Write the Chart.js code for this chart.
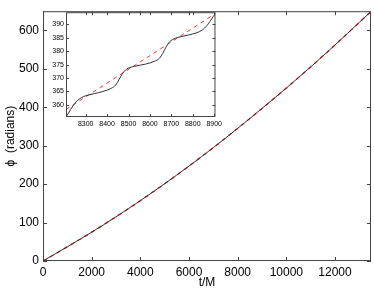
<!DOCTYPE html>
<html>
<head>
<meta charset="utf-8">
<script src="https://cdn.jsdelivr.net/npm/chart.js@4/dist/chart.umd.min.js"></script>
<style>
  body { margin: 0; background: #fff; }
  #wrap { position: relative; width: 374px; height: 291px; }
  canvas { position: absolute; }
  #main { left: 0; top: 0; }
  #inset { left: 40px; top: 6px; }
</style>
</head>
<body>
<div id="wrap">
  <canvas id="main" width="374" height="291"></canvas>
  <canvas id="inset" width="185" height="126"></canvas>
</div>
<script>
// main panel: phase vs time
const mainT   = [0, 1000, 2000, 3000, 4000, 5000, 6000, 7000, 8000, 9000, 10000, 11000, 12000, 13000, 13480];
const mainPhi = [0, 37, 75, 115, 157, 201, 247, 295, 345, 397, 450, 505, 562, 621, 649];
const fitPhi  = [0, 37, 75, 115, 157, 201, 247, 295, 345, 397, 450, 505, 562, 621, 649];

// inset: zoom on 8200 - 8900
const insetT   = [8208, 8220, 8240, 8260, 8280, 8300, 8340, 8380, 8420, 8440, 8455, 8470, 8485, 8500,
                  8530, 8580, 8620, 8645, 8660, 8675, 8690, 8705, 8730, 8780, 8820, 8845, 8865, 8880, 8895, 8906];
const insetPhi = [355.6, 357.0, 359.6, 361.5, 362.7, 363.4, 364.2, 365.0, 366.2, 367.4, 369.3, 371.4, 372.9, 373.7,
                  374.4, 375.2, 376.2, 377.4, 379.2, 381.5, 383.3, 384.3, 385.1, 386.0, 386.9, 387.9, 389.4, 391.0, 392.8, 394.0];
const insetFitT   = [8208, 8906];
const insetFitPhi = [358.3, 394.0];

// tick values
const mainXTicks  = [0, 2000, 4000, 6000, 8000, 10000, 12000];
const mainYTicks  = [0, 100, 200, 300, 400, 500, 600];
const insetXTicks = [8300, 8400, 8500, 8600, 8700, 8800, 8900];
const insetYTicks = [360, 365, 370, 375, 380, 385, 390];

Chart.defaults.font.family = '"Liberation Sans", Arial, sans-serif';
Chart.defaults.color = '#000';

const pts = (xs, ys) => xs.map((x, i) => ({ x: x, y: ys[i] }));
const useTicks = values => s => { s.ticks = values.map(v => ({ value: v })); };
const plain = v => String(v);

// box round the plot with the ticks pointing inward, on all four sides
const frameTicks = {
    id: 'frameTicks',
    afterDraw(chart, args, opts) {
        const { ctx, chartArea: a, scales: { x, y } } = chart;
        ctx.save();
        ctx.strokeStyle = opts.color;
        ctx.lineWidth = 1;
        ctx.strokeRect(a.left + 0.5, a.top + 0.5, a.right - a.left - 1, a.bottom - a.top - 1);
        ctx.beginPath();
        x.ticks.forEach(t => {
            const px = Math.round(x.getPixelForValue(t.value)) + 0.5;
            ctx.moveTo(px, a.bottom); ctx.lineTo(px, a.bottom - opts.len);
            ctx.moveTo(px, a.top); ctx.lineTo(px, a.top + opts.len);
        });
        y.ticks.forEach(t => {
            const py = Math.round(y.getPixelForValue(t.value)) + 0.5;
            ctx.moveTo(a.left, py); ctx.lineTo(a.left + opts.len, py);
            ctx.moveTo(a.right, py); ctx.lineTo(a.right - opts.len, py);
        });
        ctx.stroke();

        // rotated y title, centred on the plot height
        if (opts.yTitle) {
            ctx.translate(opts.yTitleX, (a.top + a.bottom) / 2);
            ctx.rotate(-Math.PI / 2);
            ctx.font = '12px "Liberation Sans", Arial, sans-serif';
            ctx.fillStyle = '#000';
            ctx.textAlign = 'center';
            ctx.textBaseline = 'middle';
            ctx.fillText(opts.yTitle, 0, 0);
        }
        ctx.restore();
    }
};

new Chart(document.getElementById('main'), {
    type: 'line',
    data: {
        datasets: [{
            data: pts(mainT, mainPhi),
            borderColor: '#333',
            borderWidth: 1,
            pointRadius: 0,
            cubicInterpolationMode: 'monotone'
        }, {
            data: pts(mainT, fitPhi),
            borderColor: '#ff0000',
            borderWidth: 1.3,
            borderDash: [4, 4],
            pointRadius: 0,
            cubicInterpolationMode: 'monotone'
        }]
    },
    options: {
        responsive: false,
        animation: false,
        layout: { padding: { top: 3, right: 3, left: 0, bottom: 0 } },
        plugins: {
            legend: { display: false },
            tooltip: { enabled: false },
            frameTicks: { color: '#444', len: 4, yTitle: 'ϕ  (radians)', yTitleX: 10.5 }
        },
        scales: {
            x: {
                type: 'linear',
                min: 0,
                max: 13480,
                grid: { display: false, drawTicks: false },
                border: { display: false },
                ticks: { font: { size: 12 }, padding: 4, maxRotation: 0, autoSkip: false, callback: plain },
                title: { display: true, text: 't/M', font: { size: 12 }, padding: { top: 0, bottom: 1 } },
                afterBuildTicks: useTicks(mainXTicks),
                afterFit: s => { s.height = 30; }
            },
            y: {
                min: 0,
                max: 650,
                grid: { display: false, drawTicks: false },
                border: { display: false },
                ticks: { font: { size: 12 }, padding: 4, autoSkip: false, callback: plain },
                afterBuildTicks: useTicks(mainYTicks),
                afterFit: s => { s.width = 43; }
            }
        }
    },
    plugins: [frameTicks]
});

new Chart(document.getElementById('inset'), {
    type: 'line',
    data: {
        datasets: [{
            data: pts(insetT, insetPhi),
            borderColor: '#333',
            borderWidth: 1,
            pointRadius: 0,
            cubicInterpolationMode: 'monotone'
        }, {
            data: pts(insetFitT, insetFitPhi),
            borderColor: '#ff3030',
            borderWidth: 1,
            borderDash: [4, 4],
            pointRadius: 0
        }]
    },
    options: {
        responsive: false,
        animation: false,
        layout: { padding: { top: 6, right: 5, left: 0, bottom: 0 } },
        plugins: {
            legend: { display: false },
            tooltip: { enabled: false },
            frameTicks: { color: '#444', len: 3 }
        },
        scales: {
            x: {
                type: 'linear',
                min: 8208,
                max: 8906,
                grid: { display: false, drawTicks: false },
                border: { display: false },
                ticks: { font: { size: 7 }, padding: 3, maxRotation: 0, autoSkip: false, callback: plain },
                afterBuildTicks: useTicks(insetXTicks),
                afterFit: s => { s.height = 15; }
            },
            y: {
                min: 355.5,
                max: 394.5,
                grid: { display: false, drawTicks: false },
                border: { display: false },
                ticks: { font: { size: 7 }, padding: 2, autoSkip: false, callback: plain },
                afterBuildTicks: useTicks(insetYTicks),
                afterFit: s => { s.width = 26; }
            }
        }
    },
    plugins: [frameTicks]
});
</script>
</body>
</html>
